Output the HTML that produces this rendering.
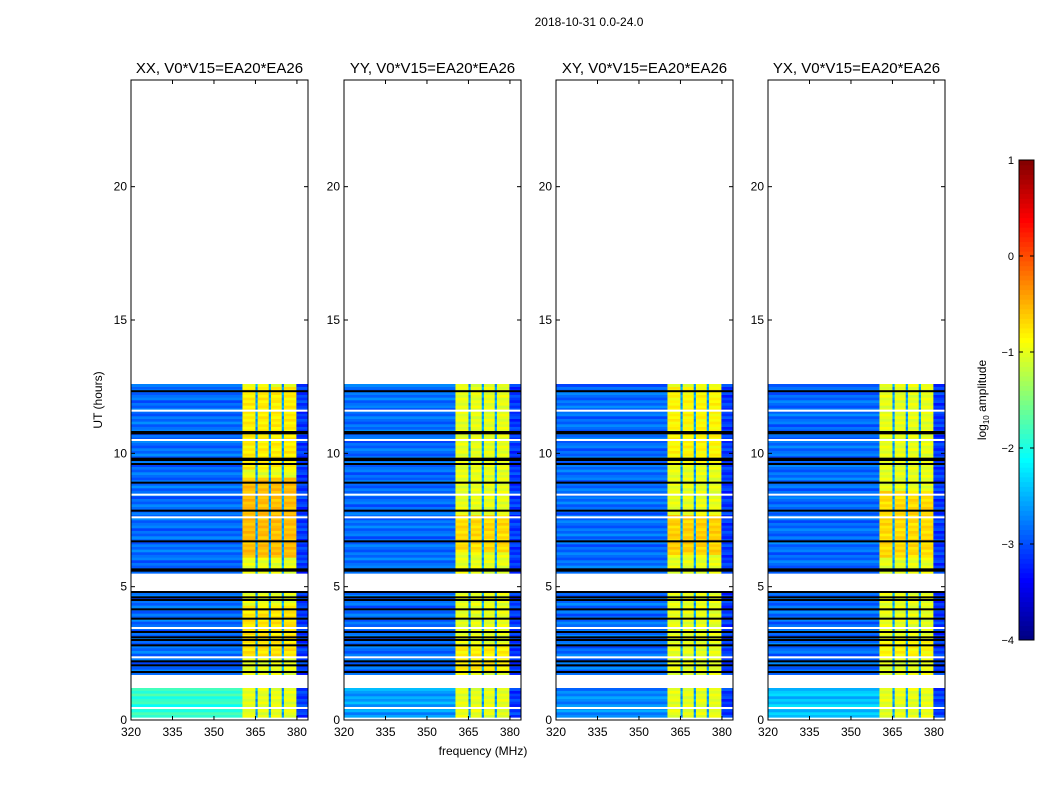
<!DOCTYPE html>
<html><head><meta charset="utf-8"><style>
body{margin:0;background:#fff;}
svg{display:block;font-family:"Liberation Sans",sans-serif;}
</style></head><body>
<svg id="fig" width="1050" height="800" viewBox="0 0 1050 800">
<text x="589" y="26" font-size="12" text-anchor="middle">2018-10-31 0.0-24.0</text>
<text x="483" y="755" font-size="12" text-anchor="middle">frequency (MHz)</text>
<text x="102" y="400" font-size="12" text-anchor="middle" transform="rotate(-90 102 400)">UT (hours)</text>
<g id="panels"></g>
<g id="cbar"></g>
</svg>
<script>
const panelTitles = ["XX, V0*V15=EA20*EA26","YY, V0*V15=EA20*EA26","XY, V0*V15=EA20*EA26","YX, V0*V15=EA20*EA26"];
const panelLefts = [131,344,556,768];
const xTicks = [320,335,350,365,380];
const yTicks = [0,5,10,15,20];
const cbarTicks = [1,0,-1,-2,-3,-4];
const segments = [[0.1,1.2],[1.7,4.8],[5.5,12.6]];
const bandEdges = [320,360.3,365,365.8,369.8,370.6,374.5,375.3,379.8,384];
const bandLevels = [-2.85,-1.0,-2.6,-1.0,-2.6,-1.0,-2.6,-1.0,-3.1];
const bottomLevel = [-1.9,-2.6,-2.7,-2.4];
const brightBoost = [[[6.0,9.0,0.45],[2.4,4.3,0.25],[9.3,12.4,0.2]],[[6.2,7.6,0.3],[1.8,2.8,0.2]],[[6.1,7.6,0.35],[9.5,12.4,0.15]],[[6.0,8.5,0.3],[2.4,3.0,0.15]]];
const rowNoise = [0,0.15,-0.1,0.05,-0.2,0.12,0.03,-0.12,0.18,-0.06,0.1,-0.15];
const blackLines = [12.33,10.8,10.75,9.8,9.75,9.6,8.9,7.85,6.7,5.65,5.6,4.8,4.6,4.5,4.15,3.8,3.3,3.1,3.0,2.8,2.2,2.05,1.8];
const whiteLines = [11.6,10.5,8.45,7.6,3.45,2.35,0.45];

const NS="http://www.w3.org/2000/svg";
const W=177,TOP=80,BOT=720;
function yS(h){return BOT-(h/24)*(BOT-TOP);}
function jet(v){v=Math.max(0,Math.min(1,v));const c=x=>Math.round(255*Math.max(0,Math.min(1,1.5-Math.abs(x))));return `rgb(${c(4*v-3)},${c(4*v-2)},${c(4*v-1)})`;}
function lv(l){return (l+4)/5;}
function mk(tag,attrs,parent){const e=document.createElementNS(NS,tag);for(const k in attrs)e.setAttribute(k,attrs[k]);parent.appendChild(e);return e;}
const root=document.getElementById('panels');
panelLefts.forEach((L,p)=>{
  const xS=f=>L+(f-320)/(384-320)*W;
  const g=mk('g',{},root);
  
  
  segments.forEach((s,si)=>{
    for(let h=s[0],r=0;h<s[1]-1e-6;h+=0.1,r++){
      const h2=Math.min(h+0.1,s[1]);
      for(let b=0;b<bandLevels.length;b++){
        let v=bandLevels[b];
        const bright=bandLevels[b]>-1.5;
        if(si===0&&!bright&&b===0)v=bottomLevel[p];
        if(bright)brightBoost[p].forEach(bb=>{if(h>=bb[0]&&h<bb[1])v+=bb[2];});
        v+=rowNoise[(r+b*5+p*3)%rowNoise.length]*(bright?0.6:1);
        const rc=mk('rect',{x:xS(bandEdges[b]).toFixed(2),y:yS(h2).toFixed(2),width:(xS(bandEdges[b+1])-xS(bandEdges[b])+0.3).toFixed(2),height:(yS(h)-yS(h2)+0.3).toFixed(2),fill:jet(lv(v))},g);
        
        
      }
    }
  });
  whiteLines.forEach(h=>{const l=mk('rect',{x:L,y:yS(h)-1,width:W,height:2,fill:'#fff'},g);
    
    });
  blackLines.forEach(h=>{const l=mk('rect',{x:L,y:yS(h)-1,width:W,height:2,fill:'#000'},g);
    
    });
  const fr=mk('rect',{x:L,y:TOP,width:W,height:BOT-TOP,fill:'none',stroke:'#000','stroke-width':1},g);
  
  
  const t=mk('text',{x:L+W/2,y:TOP-7,'font-size':15,'text-anchor':'middle'},g);t.textContent=panelTitles[p];
  
  
  xTicks.forEach(f=>{const x=xS(f);
    mk('line',{x1:x,x2:x,y1:BOT,y2:BOT-4,stroke:'#000'},g);mk('line',{x1:x,x2:x,y1:TOP,y2:TOP+4,stroke:'#000'},g);
    const tx=mk('text',{x:x,y:BOT+16,'font-size':12,'text-anchor':'middle'},g);tx.textContent=f;
    
    });
  yTicks.forEach(h=>{const y=yS(h);
    mk('line',{x1:L,x2:L+4,y1:y,y2:y,stroke:'#000'},g);mk('line',{x1:L+W,x2:L+W-4,y1:y,y2:y,stroke:'#000'},g);
    const ty=mk('text',{x:L-4,y:y+4,'font-size':12,'text-anchor':'end'},g);ty.textContent=h;
    
    });
});
const cb=document.getElementById('cbar');
const CX=1019,CW=15,CT=160,CB=640;
const cy=v=>CT+(1-v)/5*(CB-CT);
for(let i=0;i<100;i++){const v0=-4+i*0.05;mk('rect',{x:CX,y:cy(v0+0.05),width:CW,height:(CB-CT)/100+0.5,fill:jet(lv(v0+0.025))},cb);}
mk('rect',{x:CX,y:CT,width:CW,height:CB-CT,fill:'none',stroke:'#000'},cb);
cbarTicks.forEach(v=>{const y=cy(v);
  mk('line',{x1:CX,x2:CX+4,y1:y,y2:y,stroke:'#000'},cb);mk('line',{x1:CX+CW,x2:CX+CW-4,y1:y,y2:y,stroke:'#000'},cb);
  const t=mk('text',{x:CX-5,y:y+4,'font-size':11,'text-anchor':'end'},cb);t.textContent=(v<0?'\u2212':'')+Math.abs(v);
  
  });
const cl=mk('text',{x:986,y:400,'font-size':12,'text-anchor':'middle',transform:'rotate(-90 986 400)'},cb);
cl.innerHTML='log<tspan font-size="8" dy="3">10</tspan><tspan dy="-3"> amplitude</tspan>';


</script>
</body></html>
